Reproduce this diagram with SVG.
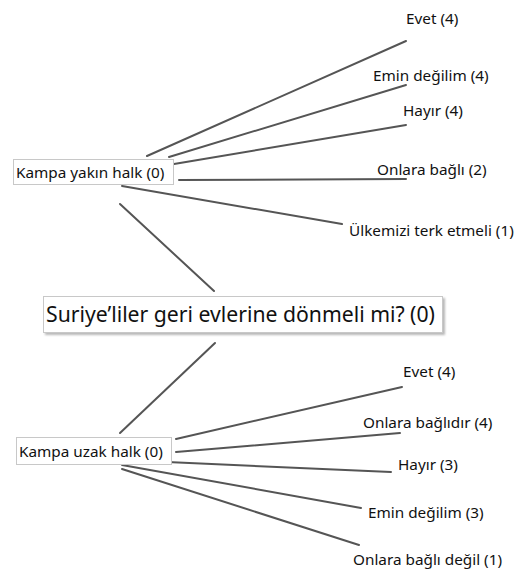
<svg xmlns="http://www.w3.org/2000/svg" width="520" height="569" viewBox="0 0 520 569">
  <style>
    .edge { stroke: #555; stroke-width: 2; fill: none; stroke-linecap: round; }
    .box { fill: #fff; stroke: #c8c8c8; stroke-width: 1; }
    .lbl { font-family: "Noto Sans", "Open Sans", sans-serif; font-size: 15.3px; fill: #111; }
    .root { font-family: "Noto Sans", "Open Sans", sans-serif; font-size: 21.2px; fill: #111; }
  </style>
  <defs>
    <filter id="shadow" x="-5%" y="-20%" width="110%" height="150%">
      <feDropShadow dx="2" dy="2" stdDeviation="1" flood-color="#888" flood-opacity="0.6"/>
    </filter>
  </defs>
  <rect width="520" height="569" fill="#fff"/>

  <!-- connectors -->
  <g id="edges">
    <line class="edge" x1="147" y1="156" x2="406" y2="41"/>
    <line class="edge" x1="169" y1="157" x2="406" y2="85"/>
    <line class="edge" x1="174" y1="164" x2="406" y2="125"/>
    <line class="edge" x1="179" y1="180" x2="406" y2="179"/>
    <line class="edge" x1="122" y1="186" x2="342" y2="224"/>
    <line class="edge" x1="120" y1="204" x2="214" y2="291"/>
    <line class="edge" x1="215" y1="343" x2="120" y2="433"/>
    <line class="edge" x1="176" y1="439" x2="402" y2="387"/>
    <line class="edge" x1="176" y1="452" x2="400" y2="433"/>
    <line class="edge" x1="167" y1="462" x2="391" y2="472"/>
    <line class="edge" x1="122" y1="465" x2="361" y2="508"/>
    <line class="edge" x1="122" y1="469" x2="359" y2="545"/>
  </g>

  <!-- central question -->
  <g id="root">
    <rect class="box" x="43.5" y="296.5" width="399" height="36" filter="url(#shadow)"/>
    <text class="root" x="46" y="322">Suriye’liler geri evlerine dönmeli mi? (0)</text>
  </g>

  <!-- near-camp group -->
  <g id="near">
    <rect class="box" x="13.5" y="159.5" width="160" height="25"/>
    <text class="lbl" x="16" y="177.5">Kampa yakın halk (0)</text>
  </g>
  <g id="near-evet"><text class="lbl" x="406" y="24">Evet (4)</text></g>
  <g id="near-emin"><text class="lbl" x="373" y="81">Emin değilim (4)</text></g>
  <g id="near-hayir"><text class="lbl" x="403" y="116">Hayır (4)</text></g>
  <g id="near-bagli"><text class="lbl" x="377" y="175">Onlara bağlı (2)</text></g>
  <g id="near-terk"><text class="lbl" x="349" y="236">Ülkemizi terk etmeli (1)</text></g>

  <!-- far-from-camp group -->
  <g id="far">
    <rect class="box" x="16.5" y="437.5" width="155" height="27"/>
    <text class="lbl" x="19" y="456.5">Kampa uzak halk (0)</text>
  </g>
  <g id="far-evet"><text class="lbl" x="403" y="377">Evet (4)</text></g>
  <g id="far-bagli"><text class="lbl" x="363" y="428">Onlara bağlıdır (4)</text></g>
  <g id="far-hayir"><text class="lbl" x="398" y="470">Hayır (3)</text></g>
  <g id="far-emin"><text class="lbl" x="368" y="518">Emin değilim (3)</text></g>
  <g id="far-degil"><text class="lbl" x="353" y="565">Onlara bağlı değil (1)</text></g>
</svg>
